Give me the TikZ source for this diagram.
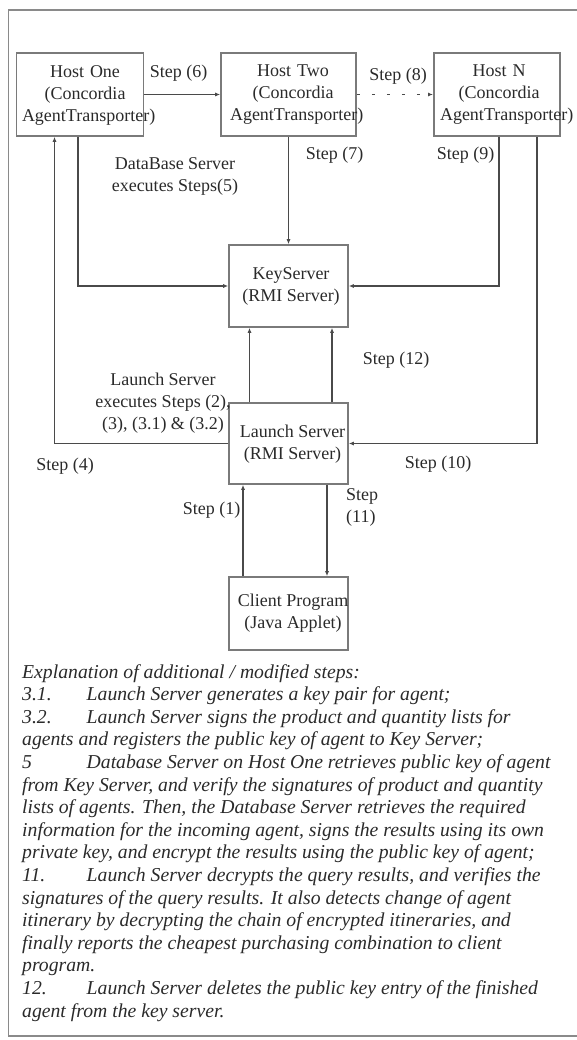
\documentclass[tikz,border=0pt]{standalone}
\usepackage{fontspec}
\setmainfont{Liberation Serif}
\usetikzlibrary{arrows.meta}
\definecolor{boxgray}{HTML}{7A7A7A}
\definecolor{linegray}{HTML}{4A4A4A}
\definecolor{framegray}{HTML}{8A8A8A}
\definecolor{txt}{HTML}{2A2A2A}
\begin{document}
\begin{tikzpicture}[x=1pt,y=-1pt,
  box/.style={draw=boxgray, line width=1.6pt, inner sep=0pt, minimum width=119pt},
  conn/.style={draw=linegray, line width=1.1pt, -{Latex[length=5pt,width=4pt]}},
  lbl/.style={font=\fontsize{18}{22}\selectfont, text=txt, inner sep=0pt},
  boxtext/.style={lbl, align=center, text width=#1},
  notes/.style={font=\fontsize{19.7}{22.6}\selectfont\itshape, text=txt, inner sep=0pt, align=left}]
\useasboundingbox (0,0) rectangle (577,1040);
% outer frame
\draw[framegray, line width=1.8pt] (590,10) -- (8.5,10) -- (8.5,1036) -- (590,1036);

% hosts
\node[box, minimum width=127pt, minimum height=83pt] (h1) at (80,94.5) {};
\node[box, minimum width=135pt, minimum height=83pt] (h2) at (288.5,94.5) {};
\node[box, minimum width=126.4pt, minimum height=83pt] (hn) at (497,94.5) {};
\node[boxtext=126pt] (h1t) at (85,95) {Host One\\(Concordia\\AgentTransporter)};
\node[boxtext=126pt] (h2t) at (293,95) {Host Two\\(Concordia\\AgentTransporter)};
\node[boxtext=118pt] (hnt) at (499,95) {Host N\\(Concordia\\AgentTransporter)};

% servers and client
\node[box, minimum height=82pt] (ks) at (288.5,286) {};
\node[box, minimum height=81pt] (ls) at (288.5,443.5) {};
\node[box, minimum height=73pt] (cp) at (288.5,613.5) {};
\node[lbl, align=center] (kst) at (291,286) {KeyServer\\(RMI Server)};
\node[lbl, align=center] (lst) at (292.5,444) {Launch Server\\(RMI Server)};
\node[lbl, align=center] (cpt) at (293,613.5) {Client Program\\(Java Applet)};

% connectors
\draw[conn] (h1.east) -- (h2.west);
\draw[conn, dash pattern=on 3pt off 12pt] (h2.east) -- (hn.west);
\draw[conn] (h2.south) -- (ks.north);
\draw[conn] ([xshift=-2pt]h1.south) |- (ks.west);
\draw[conn] ([xshift=2pt]hn.south) |- (ks.east);
\draw[conn] ([xshift=40pt]hn.south) |- (ls.east);
\draw[conn] (ls.west) -| ([xshift=-25.5pt]h1.south);
\draw[conn] ([xshift=-39pt]ls.north) -- ([xshift=-39pt]ks.south);
\draw[conn] ([xshift=43.5pt]ls.north) -- ([xshift=43.5pt]ks.south);
\draw[conn] ([xshift=-45.5pt]cp.north) -- ([xshift=-45.5pt]ls.south);
\draw[conn] ([xshift=38.5pt]ls.south) -- ([xshift=38.5pt]cp.north);

% step labels
\node[lbl] (s6) at (178.5,73) {Step (6)};
\node[lbl] (s8) at (398,76) {Step (8)};
\node[lbl] (s7) at (334.5,155) {Step (7)};
\node[lbl] (s9) at (465.5,155) {Step (9)};
\node[lbl, align=center] (db) at (175,176) {DataBase Server\\executes Steps(5)};
\node[lbl] (s12) at (396,360) {Step (12)};
\node[lbl, align=center] (lx) at (163,403) {Launch Server\\executes Steps (2),\\(3), (3.1) \& (3.2)};
\node[lbl] (s4) at (65,466) {Step (4)};
\node[lbl] (s10) at (438,464) {Step (10)};
\node[lbl] (s1) at (211.5,510) {Step (1)};
\node[lbl, align=left, anchor=west] (s11) at (346,507) {Step\\(11)};

% explanation of the steps
\newcommand{\numcol}[1]{\makebox[64.5pt][l]{#1}}
\node[notes, anchor=north west] (ex) at (22,664) {Explanation of additional / modified steps:\\
\numcol{3.1.}Launch Server generates a key pair for agent;\\
\numcol{3.2.}Launch Server signs the product and quantity lists for\\
agents and registers the public key of agent to Key Server;\\
\numcol{5}Database Server on Host One retrieves public key of agent\\
from Key Server, and verify the signatures of product and quantity\\
lists of agents. Then, the Database Server retrieves the required\\
information for the incoming agent, signs the results using its own\\
private key, and encrypt the results using the public key of agent;\\
\numcol{11.}Launch Server decrypts the query results, and verifies the\\
signatures of the query results. It also detects change of agent\\
itinerary by decrypting the chain of encrypted itineraries, and\\
finally reports the cheapest purchasing combination to client\\
program.\\
\numcol{12.}Launch Server deletes the public key entry of the finished\\
agent from the key server.};
\end{tikzpicture}
\end{document}
